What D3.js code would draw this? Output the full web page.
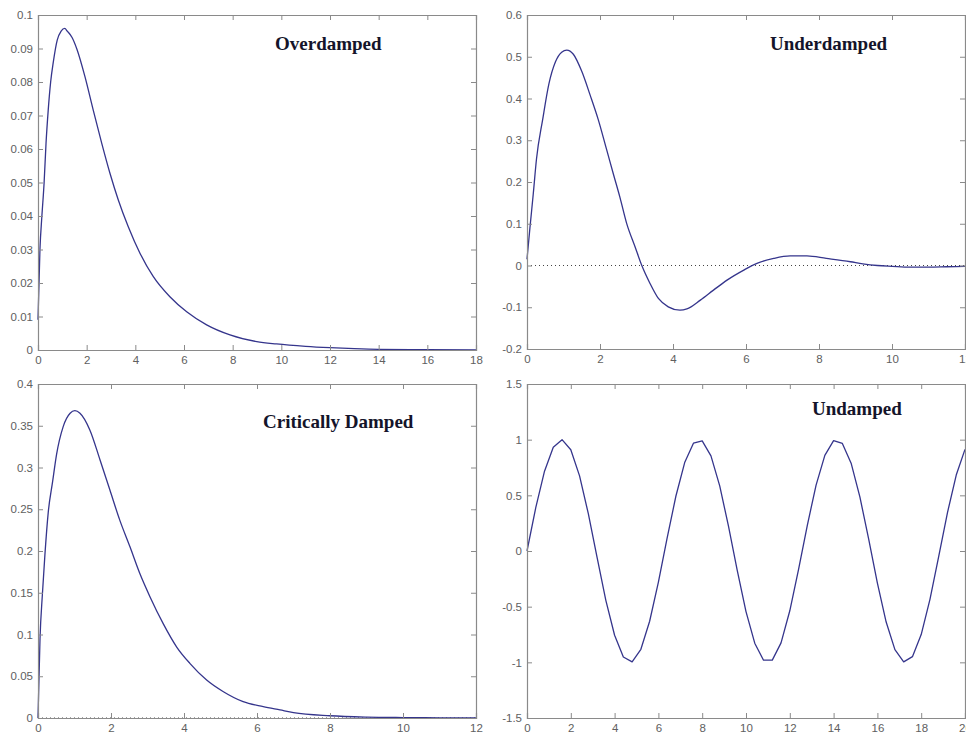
<!DOCTYPE html>
<html>
<head>
<meta charset="utf-8">
<script src="https://cdn.jsdelivr.net/npm/d3@7"></script>
<style>
  html, body { margin: 0; padding: 0; background: #fff; }
  svg { display: block; }
</style>
</head>
<body>
<svg id="chart" width="966" height="733"></svg>
<script>
// ---- Overdamped response ----
const overT = [0, 0.08, 0.16, 0.25, 0.33, 0.42, 0.52, 0.63, 0.79, 0.95, 1.1, 1.2, 1.4, 1.6, 1.93, 2.27, 2.62, 2.96, 3.3, 3.71, 4.19, 4.74, 5.42, 6.11, 6.93, 7.89, 8.99, 9.8, 11, 12, 13, 14, 16, 18];
const overY = [0.009, 0.03, 0.04, 0.0498, 0.0617, 0.0716, 0.08, 0.086, 0.0925, 0.0952, 0.096, 0.0952, 0.0933, 0.0898, 0.0816, 0.0716, 0.0617, 0.0527, 0.0448, 0.0368, 0.0289, 0.0219, 0.0159, 0.0114, 0.0075, 0.0045, 0.0025, 0.0018, 0.0011, 0.0007, 0.0004, 0.0002, 0.0001, 0];
const overXTicks = [0, 2, 4, 6, 8, 10, 12, 14, 16, 18];
const overYTicks = [0, 0.01, 0.02, 0.03, 0.04, 0.05, 0.06, 0.07, 0.08, 0.09, 0.1];

// ---- Underdamped response ----
const underT = [0, 0.08, 0.17, 0.26, 0.43, 0.6, 0.78, 0.95, 1.09, 1.27, 1.5, 1.73, 1.95, 2.18, 2.37, 2.55, 2.73, 2.96, 3.14, 3.37, 3.6, 3.87, 4.19, 4.38, 4.75, 5.11, 5.48, 5.94, 6.3, 6.76, 7.21, 7.67, 8.2, 8.86, 9.2, 9.6, 10, 10.5, 11, 11.5, 12];
const underY = [0.015, 0.09, 0.17, 0.255, 0.35, 0.435, 0.488, 0.511, 0.516, 0.506, 0.465, 0.408, 0.35, 0.278, 0.218, 0.162, 0.101, 0.045, 0.001, -0.043, -0.079, -0.099, -0.107, -0.104, -0.083, -0.059, -0.035, -0.011, 0.005, 0.017, 0.023, 0.023, 0.017, 0.009, 0.004, 0.0, -0.002, -0.004, -0.004, -0.003, -0.002];
const underXTicks = [0, 2, 4, 6, 8, 10, 12];
const underYTicks = [-0.2, -0.1, 0, 0.1, 0.2, 0.3, 0.4, 0.5, 0.6];

// ---- Critically damped response ----
const critT = [0, 0.055, 0.12, 0.19, 0.28, 0.4, 0.51, 0.69, 0.88, 1.01, 1.15, 1.42, 1.7, 1.97, 2.24, 2.52, 2.79, 3.07, 3.43, 3.8, 4.16, 4.62, 5.08, 5.62, 6.17, 6.63, 7, 8, 9, 10, 11, 12];
const critY = [0, 0.095, 0.148, 0.196, 0.246, 0.283, 0.316, 0.349, 0.365, 0.368, 0.365, 0.345, 0.309, 0.273, 0.237, 0.205, 0.173, 0.145, 0.113, 0.085, 0.0655, 0.0455, 0.0315, 0.0196, 0.0136, 0.0096, 0.0064, 0.0027, 0.0011, 0.0005, 0.0002, 0.0001];
const critXTicks = [0, 2, 4, 6, 8, 10, 12];
const critYTicks = [0, 0.05, 0.1, 0.15, 0.2, 0.25, 0.3, 0.35, 0.4];

// ---- Undamped response ----
const undT = [0, 0.4, 0.8, 1.2, 1.6, 2.0, 2.4, 2.8, 3.2, 3.6, 4.0, 4.4, 4.8, 5.2, 5.6, 6.0, 6.4, 6.8, 7.2, 7.6, 8.0, 8.4, 8.8, 9.2, 9.6, 10.0, 10.4, 10.8, 11.2, 11.6, 12.0, 12.4, 12.8, 13.2, 13.6, 14.0, 14.4, 14.8, 15.2, 15.6, 16.0, 16.4, 16.8, 17.2, 17.6, 18.0, 18.4, 18.8, 19.2, 19.6, 20.0];
const undY = [0, 0.389, 0.717, 0.932, 1.0, 0.909, 0.675, 0.335, -0.058, -0.443, -0.757, -0.952, -0.996, -0.883, -0.631, -0.279, 0.117, 0.494, 0.794, 0.968, 0.989, 0.855, 0.585, 0.223, -0.175, -0.544, -0.828, -0.981, -0.98, -0.825, -0.537, -0.166, 0.231, 0.592, 0.859, 0.991, 0.966, 0.789, 0.486, 0.108, -0.288, -0.638, -0.886, -0.996, -0.949, -0.751, -0.434, -0.049, 0.345, 0.682, 0.913];
const undXTicks = [0, 2, 4, 6, 8, 10, 12, 14, 16, 18, 20];
const undYTicks = [-1.5, -1, -0.5, 0, 0.5, 1, 1.5];

const panels = [
  { title: "Overdamped", t: overT, y: overY, xTicks: overXTicks, yTicks: overYTicks,
    box: { l: 38, r: 476, t: 15, b: 350 }, titlePos: [275, 50], zeroLine: false, smooth: true },
  { title: "Underdamped", t: underT, y: underY, xTicks: underXTicks, yTicks: underYTicks,
    box: { l: 527, r: 965, t: 15, b: 349 }, titlePos: [770, 50], zeroLine: true, smooth: true },
  { title: "Critically Damped", t: critT, y: critY, xTicks: critXTicks, yTicks: critYTicks,
    box: { l: 38, r: 476, t: 384, b: 718 }, titlePos: [263, 428], zeroLine: true, smooth: true },
  { title: "Undamped", t: undT, y: undY, xTicks: undXTicks, yTicks: undYTicks,
    box: { l: 527, r: 965, t: 384, b: 718 }, titlePos: [812, 415], zeroLine: false, smooth: false }
];

const svg = d3.select("#chart");
const fmt = d => String(+d.toFixed(3));
const axisColor = "#8a8a8a";
const labelColor = "#606060";
const lineColor = "#35358c";

panels.forEach(p => {
  const x = d3.scaleLinear()
    .domain(d3.extent(p.xTicks))
    .range([p.box.l, p.box.r]);
  const y = d3.scaleLinear()
    .domain(d3.extent(p.yTicks))
    .range([p.box.b, p.box.t]);

  const g = svg.append("g");

  // zero reference line
  if (p.zeroLine) {
    g.append("line")
      .attr("x1", x.range()[0]).attr("x2", x.range()[1])
      .attr("y1", y(0)).attr("y2", y(0))
      .attr("stroke", "#444")
      .attr("stroke-width", 1)
      .attr("stroke-dasharray", "1,3");
  }

  // response curve
  const pts = p.t.map((tv, i) => [tv, p.y[i]]);
  g.append("path")
    .datum(pts)
    .attr("fill", "none")
    .attr("stroke", lineColor)
    .attr("stroke-width", 1.3)
    .attr("stroke-linejoin", "round")
    .attr("d", d3.line()
      .curve(p.smooth ? d3.curveMonotoneX : d3.curveLinear)
      .x(d => x(d[0])).y(d => y(d[1])));

  // axes: ticks point inward on all four sides
  const bottom = g.append("g")
    .attr("transform", `translate(0,${p.box.b})`)
    .call(d3.axisBottom(x).tickValues(p.xTicks).tickSize(-5).tickPadding(6).tickFormat(fmt));
  const left = g.append("g")
    .attr("transform", `translate(${p.box.l},0)`)
    .call(d3.axisLeft(y).tickValues(p.yTicks).tickSize(-5).tickPadding(5).tickFormat(fmt));
  const top = g.append("g")
    .attr("transform", `translate(0,${p.box.t})`)
    .call(d3.axisTop(x).tickValues(p.xTicks).tickSize(-5).tickFormat(""));
  const right = g.append("g")
    .attr("transform", `translate(${p.box.r},0)`)
    .call(d3.axisRight(y).tickValues(p.yTicks).tickSize(-5).tickFormat(""));

  [bottom, left, top, right].forEach(a => {
    a.select(".domain").attr("stroke", axisColor).attr("stroke-width", 1.2);
    a.selectAll(".tick line").attr("stroke", axisColor).attr("stroke-width", 1);
    a.selectAll(".tick text")
      .attr("fill", labelColor)
      .style("font-family", "Arial, 'Liberation Sans', sans-serif")
      .style("font-size", "11.5px");
  });

  // title
  g.append("text")
    .attr("x", p.titlePos[0])
    .attr("y", p.titlePos[1])
    .attr("fill", "#14142a")
    .style("font-family", "'Times New Roman', 'Liberation Serif', serif")
    .style("font-weight", "bold")
    .style("font-size", "19px")
    .text(p.title);
});
</script>
</body>
</html>
